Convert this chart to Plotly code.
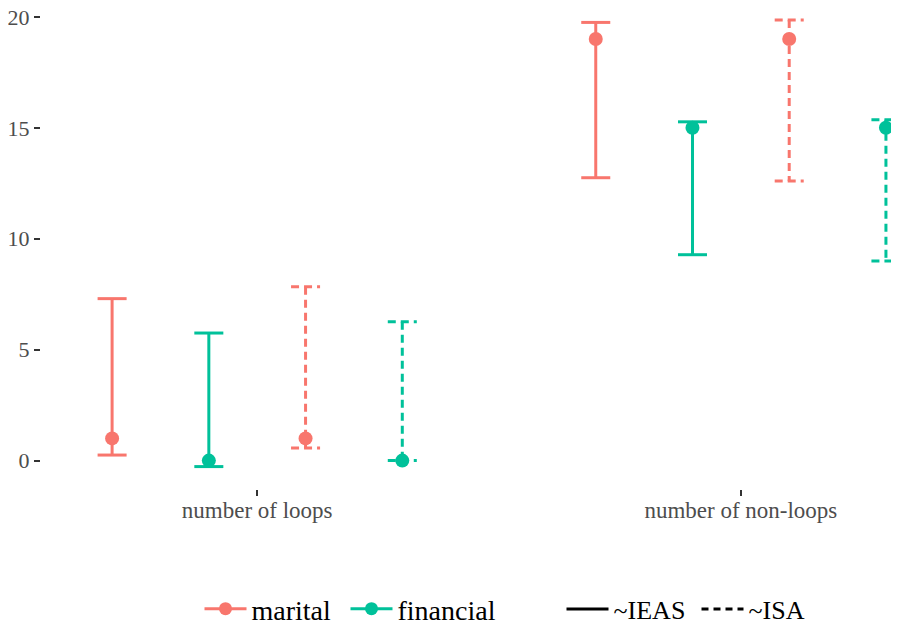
import plotly.graph_objects as go

categories = ["number of loops", "number of non-loops"]
groups = ["marital", "financial"]
methods = ["~IEAS", "~ISA"]

marital_ieas_est = [1, 19]
marital_ieas_lo = [0.25, 12.75]
marital_ieas_hi = [7.3, 19.75]

financial_ieas_est = [0, 15]
financial_ieas_lo = [-0.27, 9.28]
financial_ieas_hi = [5.75, 15.27]

marital_isa_est = [1, 19]
marital_isa_lo = [0.57, 12.6]
marital_isa_hi = [7.84, 19.86]

financial_isa_est = [0, 15]
financial_isa_lo = [0.0, 9.0]
financial_isa_hi = [6.26, 15.36]

colors = {"marital": "#F8766D", "financial": "#00C19A"}
dashes = {"~IEAS": "solid", "~ISA": "8px,5px"}

series = [
    ("marital", "~IEAS", marital_ieas_est, marital_ieas_lo, marital_ieas_hi),
    ("financial", "~IEAS", financial_ieas_est, financial_ieas_lo, financial_ieas_hi),
    ("marital", "~ISA", marital_isa_est, marital_isa_lo, marital_isa_hi),
    ("financial", "~ISA", financial_isa_est, financial_isa_lo, financial_isa_hi),
]

dodge = 0.8
n = len(series)
cap = 0.03

fig = go.Figure()
for k, (g, m, est, lo, hi) in enumerate(series):
    off = -dodge / 2 + dodge / n * (k + 0.5)
    xs, ys = [], []
    px = []
    for i in range(len(categories)):
        xc = (i + 1) + off
        px.append(xc)
        xs += [xc - cap, xc + cap, None, xc, xc, None, xc - cap, xc + cap, None]
        ys += [hi[i], hi[i], None, hi[i], lo[i], None, lo[i], lo[i], None]
    fig.add_trace(go.Scatter(x=xs, y=ys, mode="lines",
                             line=dict(color=colors[g], width=3, dash=dashes[m]),
                             showlegend=False, hoverinfo="skip", cliponaxis=False))
    fig.add_trace(go.Scatter(x=px, y=est, mode="markers",
                             marker=dict(color=colors[g], size=14),
                             showlegend=False, cliponaxis=False))

font_family = "Liberation Serif, serif"
FIG_W, FIG_H = 891, 618
L, B = 33, 137
W = FIG_W - L
PH = FIG_H - B
legend_names = ["legend", "legend2", "legend3", "legend4"]
legend_px = [207, 353, 569, 704]
legend_sizes = [28, 28, 26, 26]

# legend entries
entries = []
for g in groups:
    entries.append(dict(name=g, mode="lines+markers",
                        line=dict(color=colors[g], width=3),
                        marker=dict(color=colors[g], size=13)))
for m in methods:
    entries.append(dict(name=m, mode="lines",
                        line=dict(color="black", width=3,
                                  dash="solid" if m == "~IEAS" else "7px,5px")))
legend_layouts = {}
for e, ln, lp, fs in zip(entries, legend_names, legend_px, legend_sizes):
    fig.add_trace(go.Scatter(x=[None], y=[None], legend=ln, **e))
    legend_layouts[ln] = dict(orientation="h", x=(lp - 48.5) / W, xanchor="left",
                              y=-120 / PH, yanchor="middle", itemwidth=42,
                              font=dict(size=fs, color="black", family=font_family),
                              bgcolor="rgba(0,0,0,0)")

fig.update_layout(
    width=FIG_W, height=FIG_H,
    margin=dict(l=L, r=0, t=0, b=B, autoexpand=False),
    plot_bgcolor="white", paper_bgcolor="white",
    font=dict(family=font_family, color="#4D4D4D"),
    xaxis=dict(range=[0.553, 2.327], tickvals=[1, 2], ticktext=categories,
               showgrid=False, zeroline=False, showline=False, automargin=False,
               ticks="outside", ticklen=6, tickwidth=2, tickcolor="#333333",
               ticklabeloverflow="allow", ticklabelstandoff=-6,
               tickfont=dict(size=23, color="#4D4D4D", family=font_family)),
    yaxis=dict(range=[-1.28, 20.4], tickvals=[0, 5, 10, 15, 20],
               showgrid=False, zeroline=False, showline=False, automargin=False,
               ticks="outside", ticklen=6, tickwidth=2, tickcolor="#333333",
               ticklabeloverflow="allow",
               tickfont=dict(size=22, color="#4D4D4D", family=font_family)),
    **legend_layouts,
)

fig.write_html("out.html")
